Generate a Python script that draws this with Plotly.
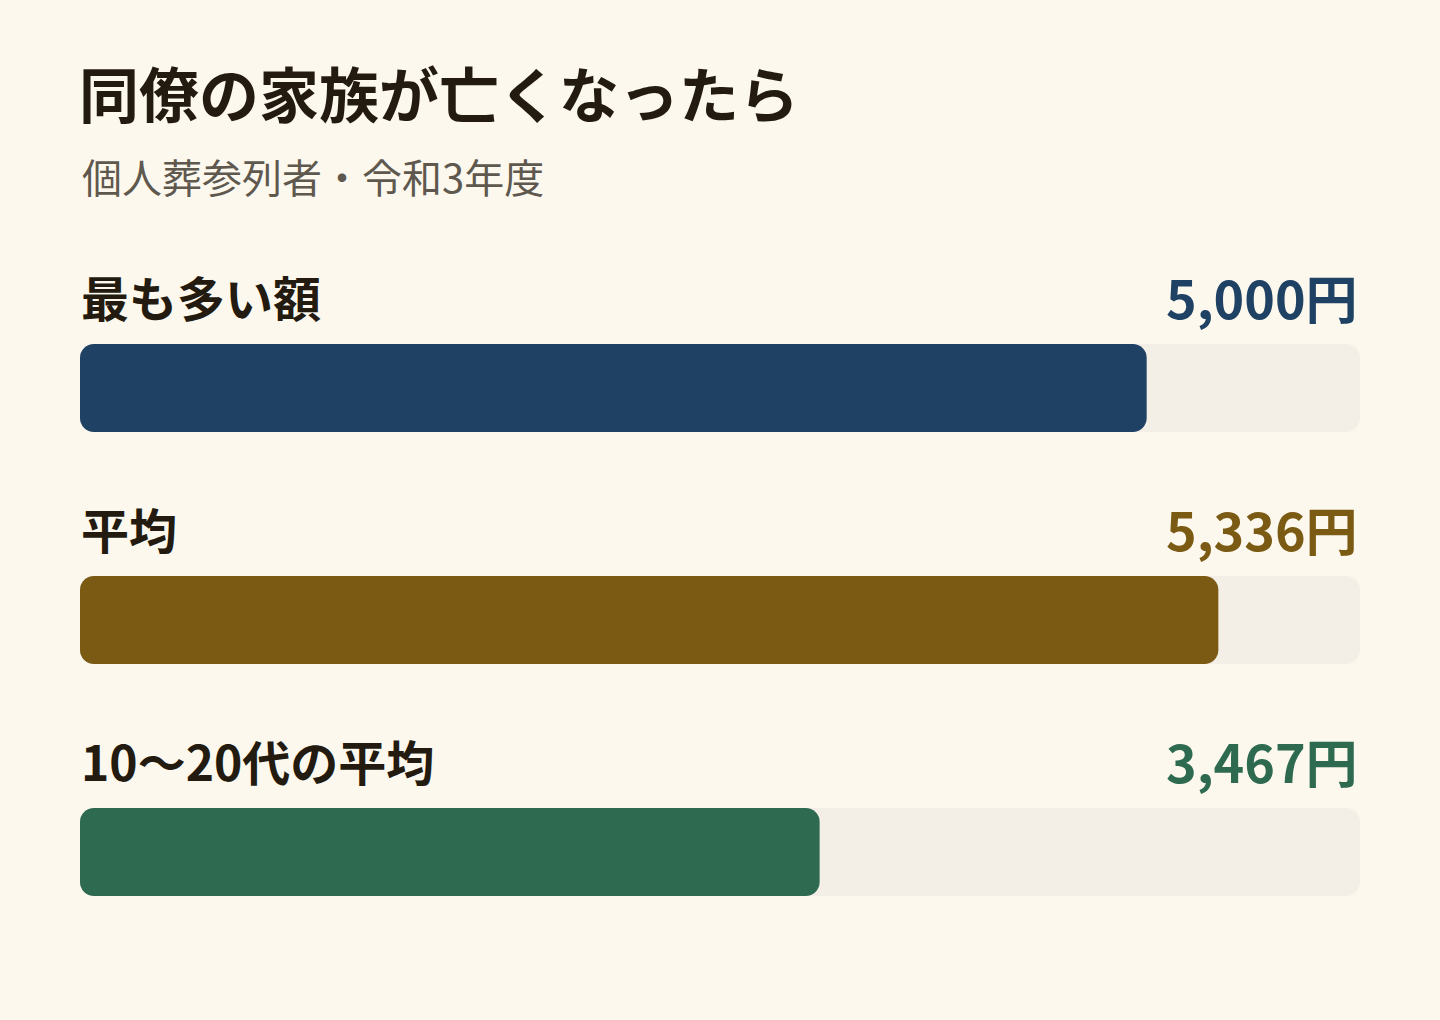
import plotly.graph_objects as go

# ---- data ----
title = "同僚の家族が亡くなったら"
subtitle = "個人葬参列者・令和3年度"
categories = ["最も多い額", "平均", "10〜20代の平均"]
values = [5000, 5336, 3467]
value_labels = ["5,000円", "5,336円", "3,467円"]
scale_max = 6000
colors = ["#1F4163", "#7B5A14", "#2E6A4F"]

# ---- layout constants (pixels) ----
W, H = 1440, 1020
LEFT, RIGHT = 80, 1360
ROW0_CENTER = 388
ROW_STEP = 232
BAR_PX = 88
LABEL_OFFSET = 92
RADIUS = 14
FONT = "Noto Sans CJK JP"
BG = "#FCF8EE"
TRACK = "#F3EEE6"
TEXT_DARK = "#231A10"
TEXT_GRAY = "#5F584E"

n = len(categories)
ys = list(range(n))
unit = ROW_STEP  # px per y unit
y_top = -ROW0_CENTER / unit
y_bot = y_top + H / unit
bar_w = BAR_PX / unit

fig = go.Figure()

# Track and value bars each live on their own overlaid axis pair; an explicit
# base makes plotly round all four corners of each bar.
layers = [
    ([scale_max] * n, TRACK),
    (values, colors),
]
for k, (length, col) in enumerate(layers):
    suffix = "" if k == 0 else str(k + 1)
    fig.add_trace(go.Bar(
        x=length, y=ys, base=[0] * n, orientation="h", width=bar_w,
        marker=dict(color=col, cornerradius=RADIUS, line=dict(width=0)),
        hoverinfo="skip", showlegend=False,
        xaxis="x" + suffix, yaxis="y" + suffix,
    ))

annotations = [
    dict(text=title, xref="paper", yref="paper", x=LEFT / W - 0.002, y=1 - 91 / H,
         xanchor="left", yanchor="middle", showarrow=False,
         font=dict(family=FONT, size=60, color=TEXT_DARK, weight=700)),
    dict(text=subtitle, xref="paper", yref="paper", x=LEFT / W, y=1 - 176 / H,
         xanchor="left", yanchor="middle", showarrow=False,
         font=dict(family=FONT, size=40, color=TEXT_GRAY, weight=400)),
]
for i, (cat, lab, col) in enumerate(zip(categories, value_labels, colors)):
    annotations.append(dict(
        text=cat, xref="paper", yref="y", x=LEFT / W - 0.001, y=i - LABEL_OFFSET / unit,
        xanchor="left", yanchor="middle", showarrow=False,
        font=dict(family=FONT, size=48, color=TEXT_DARK, weight=700)))
    annotations.append(dict(
        text=lab, xref="paper", yref="y", x=RIGHT / W, y=i - LABEL_OFFSET / unit,
        xanchor="right", yanchor="middle", showarrow=False,
        font=dict(family=FONT, size=52, color=col, weight=700)))

axis_x = dict(range=[0, scale_max], domain=[LEFT / W, RIGHT / W],
              visible=False, fixedrange=True)
axis_y = dict(range=[y_bot, y_top], domain=[0, 1], visible=False, fixedrange=True)

layout_axes = {}
for k in range(len(layers)):
    sx = "" if k == 0 else str(k + 1)
    ax = dict(axis_x)
    ay = dict(axis_y)
    if k > 0:
        ax.update(overlaying="x", anchor="y" + sx)
        ay.update(overlaying="y", anchor="x" + sx)
    layout_axes["xaxis" + sx] = ax
    layout_axes["yaxis" + sx] = ay

fig.update_layout(
    width=W, height=H, autosize=False,
    margin=dict(l=0, r=0, t=0, b=0, pad=0),
    paper_bgcolor=BG, plot_bgcolor="rgba(0,0,0,0)",
    barmode="overlay",
    annotations=annotations,
    hovermode=False,
    **layout_axes,
)

fig.write_html(
    "out.html",
    config={"displayModeBar": False},
    post_script="document.body.style.margin='0';document.body.style.background='%s';" % BG,
)
